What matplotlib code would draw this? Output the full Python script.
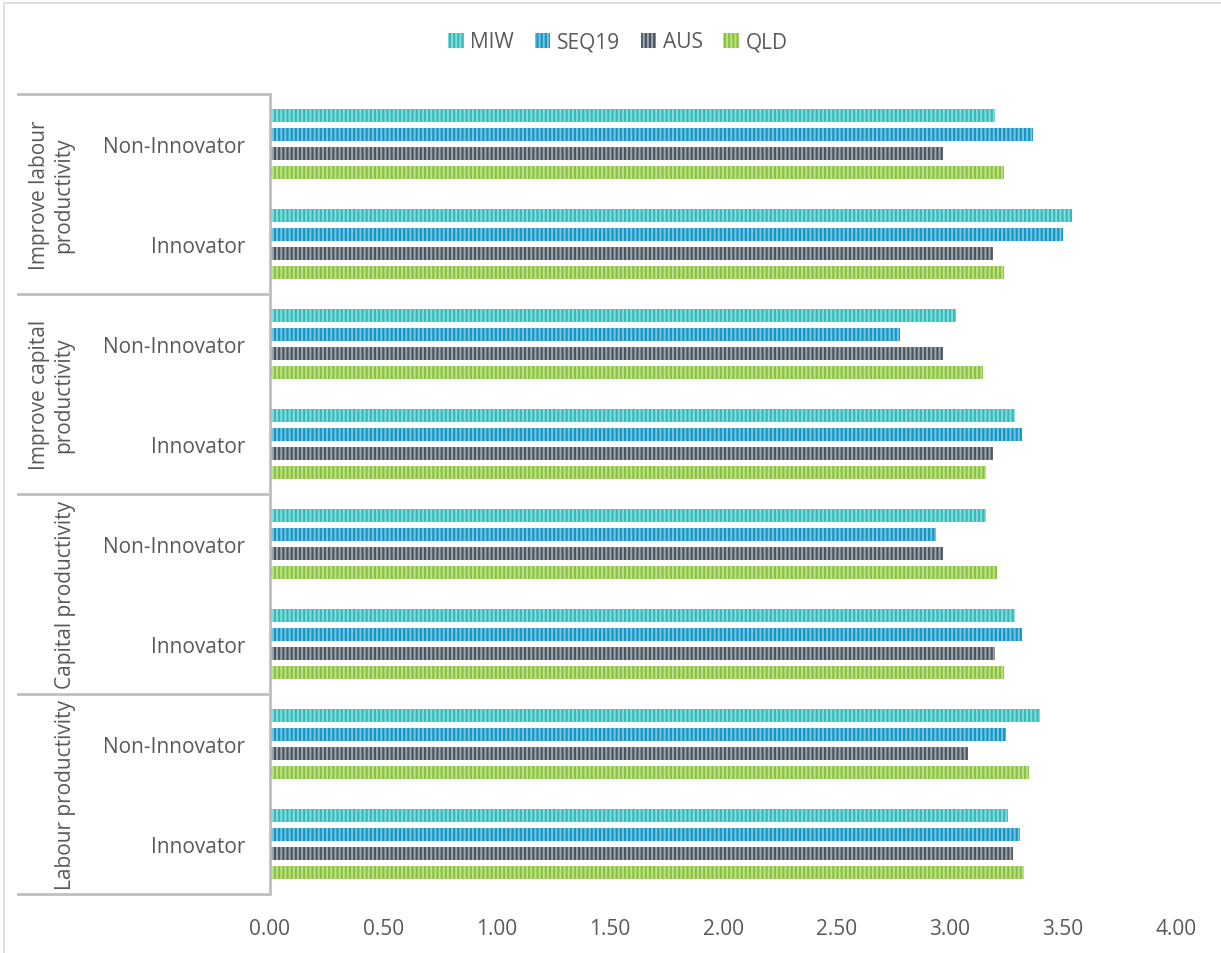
import matplotlib.pyplot as plt
import matplotlib.transforms as mtransforms
from matplotlib.lines import Line2D
from matplotlib.patches import Rectangle
import numpy as np

# === data (top to bottom) ===
groups = ["Improve labour\nproductivity", "Improve capital\nproductivity",
          "Capital productivity", "Labour productivity"]
subcats = ["Non-Innovator", "Innovator"] * 4
series = ["MIW", "SEQ19", "AUS", "QLD"]
miw = [3.20, 3.54, 3.03, 3.29, 3.16, 3.29, 3.40, 3.26]
seq19 = [3.37, 3.50, 2.78, 3.32, 2.94, 3.32, 3.25, 3.31]
aus = [2.97, 3.19, 2.97, 3.19, 2.97, 3.20, 3.08, 3.28]
qld = [3.24, 3.24, 3.15, 3.16, 3.21, 3.24, 3.35, 3.33]
xticks = [0.0, 0.5, 1.0, 1.5, 2.0, 2.5, 3.0, 3.5, 4.0]

# face colour / stripe colour
face_cols = ["#33BCBC", "#1397C6", "#4A5660", "#89C43C"]
stripe_cols = ["#8ADADA", "#7AC6E2", "#9EA7AF", "#C0DF92"]

txt_col = "#595959"
line_col = "#BFBFBF"
fs = 15
plt.rcParams['font.family'] = ['Open Sans', 'DejaVu Sans']
plt.rcParams['hatch.linewidth'] = 1.4

W, H = 1221, 954
fig = plt.figure(figsize=(W / 100, H / 100), dpi=100)
ax = fig.add_axes([270 / W, 1 - 895 / H, (1176 - 270) / W, 800 / H])

y = np.arange(len(subcats)) + 0.5
offsets = [-0.288, -0.096, 0.096, 0.288]
for vals, off, fc, sc, name in zip([miw, seq19, aus, qld], offsets,
                                   face_cols, stripe_cols, series):
    ax.barh(y + off, vals, height=0.13, color=fc, edgecolor=sc,
            linewidth=0, hatch="||||", label=name)

ax.set_xlim(0, 4)
ax.set_ylim(len(subcats), 0)
ax.set_xticks(xticks)
ax.set_xticklabels([f"{v:.2f}" for v in xticks])
ax.set_yticks(y)
ax.set_yticklabels(subcats)
ax.tick_params(axis='both', length=0, labelsize=fs, labelcolor=txt_col)
ax.tick_params(axis='x', pad=17)
ax.tick_params(axis='y', pad=18)
for s in ["top", "right", "bottom"]:
    ax.spines[s].set_visible(False)
ax.spines["left"].set_color(line_col)
ax.spines["left"].set_linewidth(2)

# group separators and labels
trans = mtransforms.blended_transform_factory(fig.transFigure, ax.transData)
for b in [0, 2, 4, 6, 8]:
    fig.add_artist(Line2D([18 / W, 269 / W], [b, b], transform=trans,
                          color=line_col, lw=2))
for i, g in enumerate(groups):
    xpos = 52 / W if "\n" in g else 65 / W
    fig.text(xpos, 2 * i + 1, g, transform=trans, rotation=90,
             ha='center', va='center', fontsize=fs, color=txt_col,
             linespacing=1.2, multialignment='center')

# legend
ax.legend(loc='center', bbox_to_anchor=(0.506, 1 - 43 / H),
          bbox_transform=fig.transFigure, ncol=4, frameon=False,
          fontsize=fs, labelcolor=txt_col, handlelength=0.75,
          handleheight=0.75, handletextpad=0.3, columnspacing=1.0)

# outer border
fig.add_artist(Rectangle((4 / W, -0.1), 1.2, 1 - 4 / H + 0.1,
                         transform=fig.transFigure, fill=False,
                         edgecolor="#D9D9D9", lw=1.2))

fig.savefig("out.png", dpi=100)
